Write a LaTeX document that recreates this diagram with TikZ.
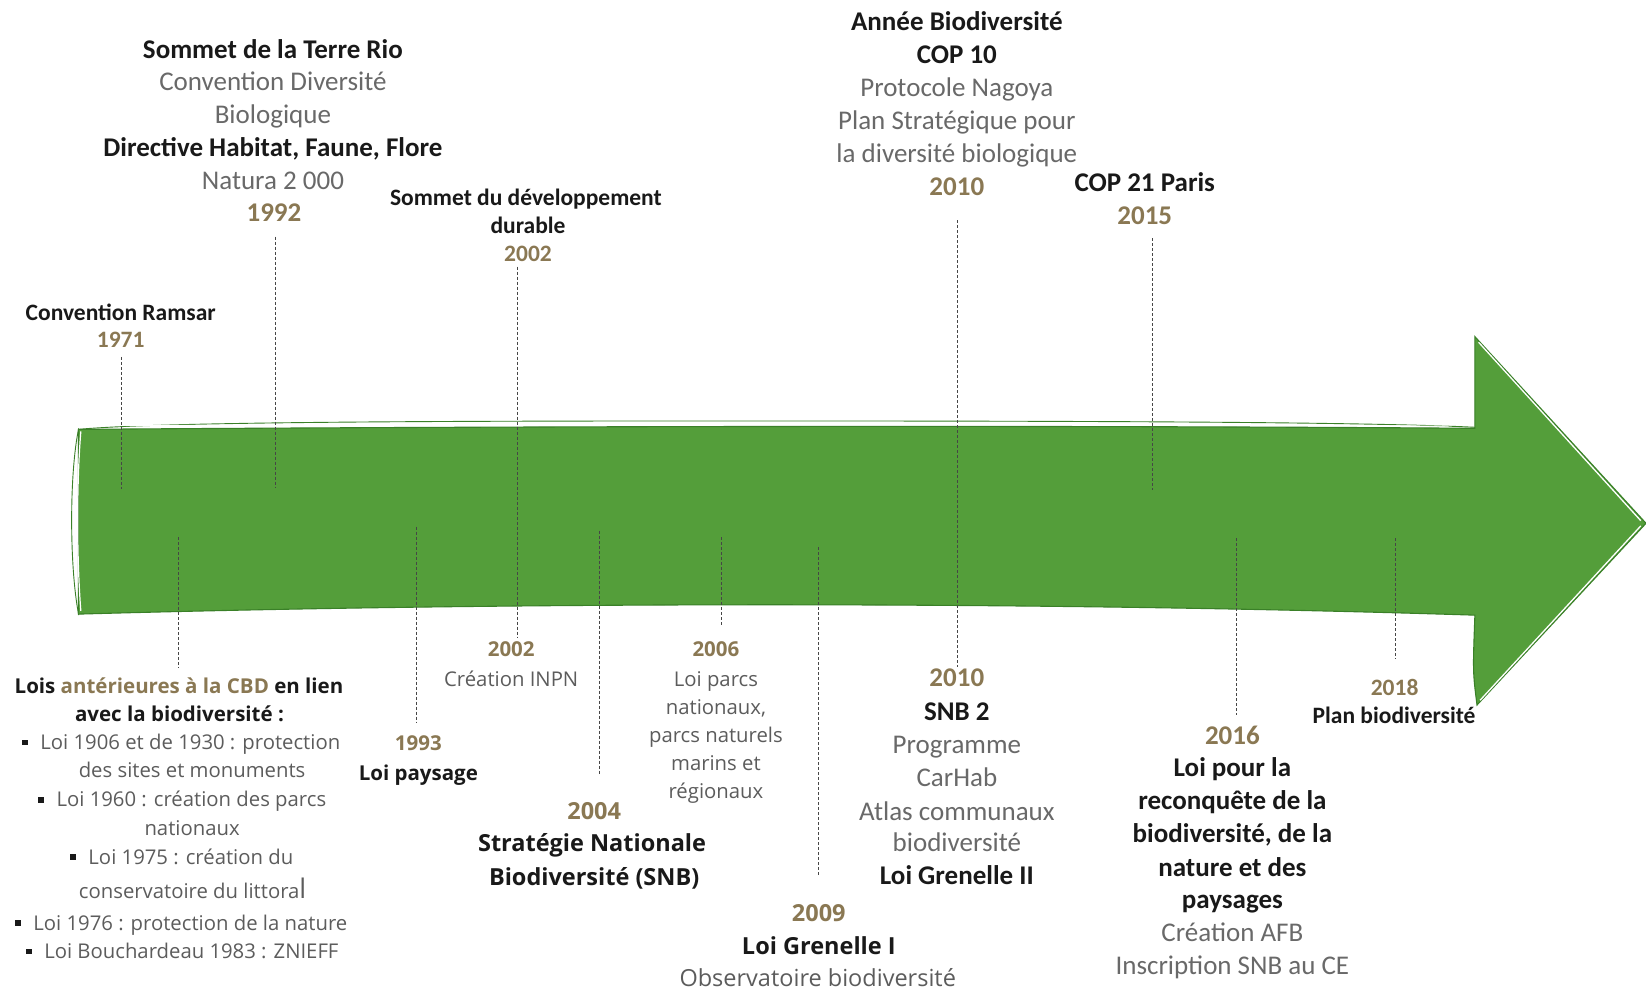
\documentclass[tikz,border=0pt]{standalone}
\usepackage{fontspec}
\newfontfamily\calfont{Carlito}
\newfontfamily\osfont{Open Sans}
\definecolor{gold}{RGB}{138,120,83}
\definecolor{blk}{RGB}{25,25,25}
\definecolor{gry}{RGB}{105,105,105}
\definecolor{gryos}{RGB}{92,92,92}
\definecolor{arrowgreen}{RGB}{84,158,58}
\definecolor{arrowline}{RGB}{58,128,40}
\definecolor{tickgray}{RGB}{70,70,70}
\newcommand{\bulsq}{{\color{blk}\rule[0.19em]{0.29em}{0.29em}}\hspace{0.62em}}
\newcommand{\bigell}{{\fontsize{27}{27}\selectfont l}}
\tikzset{
  lbl/.style={anchor=base, inner sep=0pt, outer sep=0pt},
  calB/.style={lbl, text=blk, font=\calfont\bfseries\fontsize{27}{32}\selectfont},
  calR/.style={lbl, text=gry, font=\calfont\fontsize{27}{32}\selectfont},
  calY/.style={lbl, text=gold, font=\calfont\bfseries\fontsize{27}{32}\selectfont},
  calBs/.style={lbl, text=blk, font=\calfont\bfseries\fontsize{23.5}{28}\selectfont},
  calYs/.style={lbl, text=gold, font=\calfont\bfseries\fontsize{23.5}{28}\selectfont},
  osB/.style={lbl, text=blk, font=\osfont\bfseries\fontsize{20.5}{28}\selectfont},
  osR/.style={lbl, text=gryos, font=\osfont\fontsize{20.3}{28}\selectfont},
  osY/.style={lbl, text=gold, font=\osfont\bfseries\fontsize{20.5}{28}\selectfont},
  osBL/.style={lbl, text=blk, font=\osfont\bfseries\fontsize{23.5}{32}\selectfont},
  osRL/.style={lbl, text=gryos, font=\osfont\fontsize{23.5}{32}\selectfont},
  osYL/.style={lbl, text=gold, font=\osfont\bfseries\fontsize{23.5}{32}\selectfont},
  tickline/.style={draw=tickgray, line width=1pt, dash pattern=on 3pt off 2pt},
  sketch/.style={draw=arrowline, line width=1.1pt},
}
\begin{document}
\begin{tikzpicture}[x=1.0497pt, y=-1.0497pt]
\useasboundingbox[fill=white] (0,0) rectangle (1568,943);

% ---------------- arrow ----------------
\fill[arrowgreen] (74.6,409) .. controls (500,406) and (1000,405) .. (1405,408)
  -- (1405,320.7) -- (1568,498.5) -- (1407,671.6)
  .. controls (1403,640) .. (1405,586)
  .. controls (1000,573) and (500,573) .. (74.6,585) -- cycle;
\draw[sketch] (74.6,409) .. controls (500,406) and (1000,405) .. (1405,408)
  -- (1405,320.7) -- (1568,498.5) -- (1407,671.6)
  .. controls (1403,640) .. (1405,586)
  .. controls (1000,573) and (500,573) .. (74.6,585) -- cycle;
% sketchy second strokes
\draw[sketch, line width=0.9pt] (74.6,409) .. controls (150,402) and (400,401) .. (700,401)
  .. controls (1050,401) and (1300,402) .. (1405,407);
\draw[sketch, line width=0.9pt] (75,408) .. controls (66,450) and (66,540) .. (75,586);
\draw[white, line width=1.2pt] (77,411) .. controls (73,460) and (73,530) .. (77,582);
\draw[white, line width=1.3pt] (1408.5,326) -- (1563,496);
\draw[white, line width=1.3pt] (1563,501) -- (1410,667);
\draw[white, line width=1.0pt] (120,405.5) .. controls (400,404) and (1000,403.5) .. (1380,406);

% ---------------- dashed ticks ----------------
\coordinate (t71a) at (115.5,340);   \coordinate (t71b) at (115.5,466);
\coordinate (t92a) at (262.5,225.5); \coordinate (t92b) at (262.5,465);
\coordinate (t02a) at (493,254);     \coordinate (t02b) at (493,608);
\coordinate (tLa) at (170.4,511.6);  \coordinate (tLb) at (170.4,636.6);
\coordinate (t93a) at (397,501.7);   \coordinate (t93b) at (397,687.5);
\coordinate (t04a) at (571.5,505.5); \coordinate (t04b) at (571.5,738.3);
\coordinate (t06a) at (687.6,511.9); \coordinate (t06b) at (687.6,595.4);
\coordinate (t09a) at (779.8,521.4); \coordinate (t09b) at (779.8,835.2);
\coordinate (t10a) at (912,209.6);   \coordinate (t10b) at (912,635);
\coordinate (t15a) at (1098,227);    \coordinate (t15b) at (1098,466.8);
\coordinate (t16a) at (1177.5,512.6);\coordinate (t16b) at (1177.5,681);
\coordinate (t18a) at (1329.8,512.6);\coordinate (t18b) at (1329.8,627);
\foreach \a/\b in {t71a/t71b,t92a/t92b,t02a/t02b,tLa/tLb,t93a/t93b,t04a/t04b,
  t06a/t06b,t09a/t09b,t10a/t10b,t15a/t15b,t16a/t16b,t18a/t18b}
  \draw[tickline] (\a) -- (\b);

% ---------------- top labels ----------------
\node[calB] (rio1) at (260,55.6) {Sommet de la Terre Rio};
\node[calR] (rio2) at (260,86.4) {Convention Diversité};
\node[calR] (rio3) at (260,117.2) {Biologique};
\node[calB] (rio4) at (260,149.3) {Directive Habitat, Faune, Flore};
\node[calR] (rio5) at (260,180.3) {Natura 2 000};
\node[calY] (rio6) at (261,211.2) {1992};

\node[calBs] (ram1) at (115,304.9) {Convention Ramsar};
\node[calYs] (ram2) at (115,331.2) {1971};

\node[calBs] (sdd1) at (501,196) {Sommet du développement};
\node[calBs] (sdd2) at (503,222.9) {durable};
\node[calYs] (sdd3) at (503,249.3) {2002};

\node[calB] (cop1) at (911.5,29.2) {Année Biodiversité};
\node[calB] (cop2) at (911.5,60.3) {COP 10};
\node[calR] (cop3) at (911.5,92.1) {Protocole Nagoya};
\node[calR] (cop4) at (911.5,123.8) {Plan Stratégique pour};
\node[calR] (cop5) at (911.5,154.6) {la diversité biologique};
\node[calY] (cop6) at (911.5,185.8) {2010};

\node[calB] (c21a) at (1090.5,182) {COP 21 Paris};
\node[calY] (c21b) at (1090.5,213.4) {2015};

% ---------------- bottom labels ----------------
\node[osB] (l1) at (170.5,660.5) {Lois \textcolor{gold}{antérieures à la CBD} en lien};
\node[osB] (l2) at (171,687.5) {avec la biodiversité :};
\node[osR] (l3) at (172.5,713.8) {\bulsq Loi 1906 et de 1930 : protection};
\node[osR] (l4) at (183,740.5) {des sites et monuments};
\node[osR] (l5) at (173.5,768.5) {\bulsq Loi 1960 : création des parcs};
\node[osR] (l6) at (183,795.5) {nationaux};
\node[osR] (l7) at (173,823.1) {\bulsq Loi 1975 : création du};
\node[osR] (l8) at (183.5,855.8) {conservatoire du littora\bigell};
\node[osR] (l9) at (172.5,886) {\bulsq Loi 1976 : protection de la nature};
\node[osR] (l10) at (173.5,912.9) {\bulsq Loi Bouchardeau 1983 : ZNIEFF};

\node[osY] (y93a) at (398.5,715.2) {1993};
\node[osB] (y93b) at (398.5,743.1) {Loi paysage};

\node[osY] (y02a) at (487,625.6) {2002};
\node[osR] (y02b) at (487,653.5) {Création INPN};

\node[osY] (y06a) at (682,625.6) {2006};
\node[osR] (y06b) at (682,653.5) {Loi parcs};
\node[osR] (y06c) at (682,680.5) {nationaux,};
\node[osR] (y06d) at (682,707.5) {parcs naturels};
\node[osR] (y06e) at (682,734) {marins et};
\node[osR] (y06f) at (682,760.5) {régionaux};

\node[osYL] (y04a) at (566,780.5) {2004};
\node[osBL] (y04b) at (564,811.4) {Stratégie Nationale};
\node[osBL] (y04c) at (566,843.1) {Biodiversité (SNB)};

\node[osYL] (y09a) at (780,878.1) {2009};
\node[osBL] (y09b) at (780,908.8) {Loi Grenelle I};
\node[osRL] (y09c) at (779,940) {Observatoire biodiversité};

\node[calY] (b10a) at (911.5,654.2) {2010};
\node[calB] (b10b) at (911.5,685.9) {SNB 2};
\node[calR] (b10c) at (911.5,717.6) {Programme};
\node[calR] (b10d) at (911.5,748.8) {CarHab};
\node[calR] (b10e) at (911.5,781.2) {Atlas communaux};
\node[calR] (b10f) at (911.5,811.4) {biodiversité};
\node[calB] (b10g) at (911.5,842.4) {Loi Grenelle II};

\node[calY] (y16a) at (1174,709.1) {2016};
\node[calB] (y16b) at (1174,740) {Loi pour la};
\node[calB] (y16c) at (1174,771.6) {reconquête de la};
\node[calB] (y16d) at (1174,802.8) {biodiversité, de la};
\node[calB] (y16e) at (1174,834.6) {nature et des};
\node[calB] (y16f) at (1174,865.3) {paysages};
\node[calR] (y16g) at (1174,897.1) {Création AFB};
\node[calR] (y16h) at (1174,928.2) {Inscription SNB au CE};

\node[calYs] (y18a) at (1328.5,662.1) {2018};
\node[calBs] (y18b) at (1328,689.1) {Plan biodiversité};
\end{tikzpicture}
\end{document}
